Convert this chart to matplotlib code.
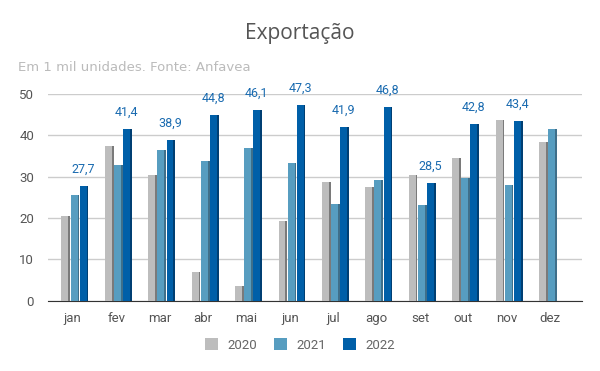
import numpy as np
import matplotlib.pyplot as plt

plt.rcParams['font.family'] = ['Roboto', 'DejaVu Sans']

meses = ['jan', 'fev', 'mar', 'abr', 'mai', 'jun', 'jul', 'ago', 'set', 'out', 'nov', 'dez']
v2020 = [20.4, 37.5, 30.5, 7.0, 3.7, 19.2, 28.8, 27.6, 30.3, 34.6, 43.8, 38.3]
v2021 = [25.6, 32.9, 36.5, 33.7, 36.9, 33.3, 23.5, 29.2, 23.2, 29.6, 27.9, 41.4]
v2022 = [27.7, 41.4, 38.9, 44.8, 46.1, 47.3, 41.9, 46.8, 28.5, 42.8, 43.4, np.nan]
anos = ['2020', '2021', '2022']

cores = ['#bdbdbd', '#579dc0', '#005fa8']
lados = ['#7a7a7a', '#3f6f8a', '#003f73']

fig = plt.figure(figsize=(6, 3.71), dpi=100)
ax = fig.add_axes([0.08, 0.189, 0.89, 0.558])

x = np.arange(len(meses))
w = 0.16      # largura da face
ws = 0.04     # largura da lateral (efeito 3d)
passo = w + ws + 0.01

for i, (serie, cor, lado) in enumerate(zip([v2020, v2021, v2022], cores, lados)):
    xs = x + (i - 1) * passo - ws / 2 + 0.05
    vals = np.array(serie, dtype=float)
    ax.bar(xs, vals, width=w, color=cor, zorder=3, label=anos[i])
    ax.bar(xs + w / 2 + ws / 2, vals, width=ws, color=lado, zorder=3)

# rotulos da serie 2022
for xi, v in zip(x, v2022):
    if not np.isnan(v):
        ax.text(xi + passo - ws / 2 + 0.05, v + 2.5, f'{v:.1f}'.replace('.', ','),
                ha='center', va='bottom', fontsize=9, color='#1a6bb0', clip_on=False)

ax.set_ylim(0, 50)
ax.set_xlim(-0.57, len(meses) - 0.27)
ax.set_yticks(range(0, 51, 10))
ax.set_xticks(x)
ax.set_xticklabels(meses)
ax.grid(axis='y', color='#cccccc', linewidth=1, zorder=0)
ax.tick_params(axis='both', length=0, labelsize=9.5, colors='#555555')
ax.tick_params(axis='x', pad=8)
ax.tick_params(axis='y', pad=10)
for s in ['top', 'right', 'left']:
    ax.spines[s].set_visible(False)
ax.spines['bottom'].set_color('#333333')

fig.text(0.5, 0.91, 'Exportação', ha='center', va='center', fontsize=15,
         color='#555555', family=['Open Sans', 'DejaVu Sans'])
fig.text(0.03, 0.818, 'Em 1 mil unidades. Fonte: Anfavea', ha='left', va='center',
         fontsize=9.5, color='#bbbbbb', family=['DejaVu Sans'])

leg = fig.legend(*ax.get_legend_handles_labels(), loc='center', bbox_to_anchor=(0.5, 0.07),
                 ncol=3, frameon=False, fontsize=9.5, handlelength=1.0, handleheight=1.0,
                 columnspacing=1.3, handletextpad=0.7)
for t in leg.get_texts():
    t.set_color('#666666')

fig.savefig('out.png', dpi=100)
